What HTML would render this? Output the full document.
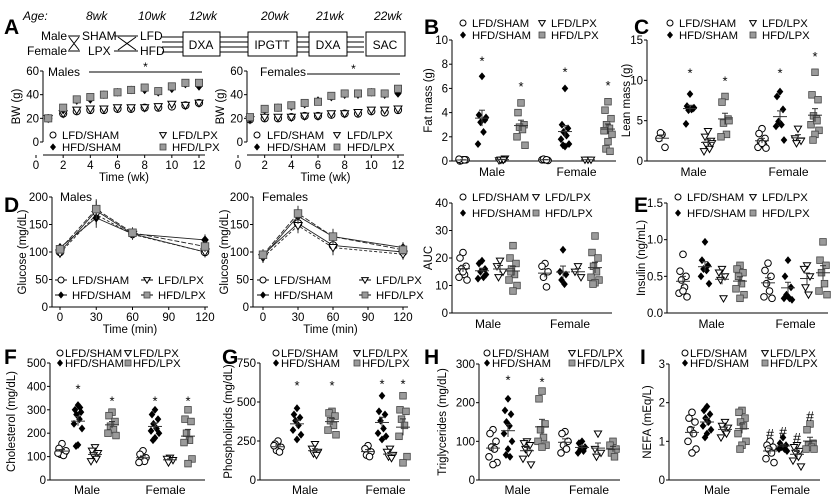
<!DOCTYPE html>
<html><head><meta charset="utf-8"><style>
html,body{margin:0;padding:0;background:#fff;width:831px;height:501px;overflow:hidden}
svg{font-family:"Liberation Sans",Arial,sans-serif}
</style></head><body>
<svg id="fig" width="831" height="501" viewBox="0 0 831 501" xmlns="http://www.w3.org/2000/svg">
<g font-size="12" fill="#000">
<text x="23" y="20" font-style="italic">Age:</text>
<text x="86" y="20" font-style="italic">8wk</text>
<text x="138" y="20" font-style="italic">10wk</text>
<text x="189" y="20" font-style="italic">12wk</text>
<text x="261" y="20" font-style="italic">20wk</text>
<text x="316" y="20" font-style="italic">21wk</text>
<text x="374" y="20" font-style="italic">22wk</text>
<text x="67" y="40" text-anchor="end">Male</text>
<text x="67" y="55" text-anchor="end">Female</text>
<text x="82" y="40">SHAM</text>
<text x="88" y="55">LPX</text>
<text x="140" y="40">LFD</text>
<text x="140" y="55">HFD</text>
<g stroke="#000" stroke-width="1" fill="none">
<path d="M68 36 L80 36 M68 51 L80 51 M69 37 L79 50 M69 50 L79 37"/>
<path d="M114 36 L138 36 M114 51 L138 51 M118 37 L136 50 M118 50 L136 37"/>
<path d="M162 37 L183 37 M162 42 L183 42 M162 47 L183 47 M162 52 L183 52"/>
<rect x="183" y="32" width="37" height="24"/>
<path d="M220 37 L248 37 M220 42 L248 42 M220 47 L248 47 M220 52 L248 52"/>
<rect x="248" y="32" width="49" height="24"/>
<path d="M297 37 L309 37 M297 42 L309 42 M297 47 L309 47 M297 52 L309 52"/>
<rect x="309" y="32" width="38" height="24"/>
<path d="M347 37 L364 37 M347 42 L364 42 M347 47 L364 47 M347 52 L364 52"/>
<rect x="366" y="32" width="39" height="24"/>
</g>
<text x="201" y="49" text-anchor="middle">DXA</text>
<text x="272" y="49" text-anchor="middle">IPGTT</text>
<text x="328" y="49" text-anchor="middle">DXA</text>
<text x="385" y="49" text-anchor="middle">SAC</text>
</g>
</svg>
<script>
// ---------- DATA ----------
const groups = ['LFD/SHAM','LFD/LPX','HFD/SHAM','HFD/LPX'];
const weeks = [0.9,2,3,4,5,6,7,8,9,10,11,12];
const bwMaleLS = [20,24,26,27,27,28,28,29,29,30,31,33];
const bwMaleLL = [20,24,27,28,28,29,29,29,30,32,31,33];
const bwMaleHS = [20,27,35,36,40,42,44,44,42,45,49,47];
const bwMaleHL = [20,29,36,38,40,42,44,46,43,47,50,50];
const bwFemLS = [19,20,20,21,22,22,23,24,24,26,25,27];
const bwFemLL = [19,21,21,21,22,22,24,24,25,27,27,28];
const bwFemHS = [20,27,29,30,32,35,38,40,40,42,40,41];
const bwFemHL = [21,28,29,31,33,34,39,41,41,42,41,45];
const gttTimes = [0,30,60,120];
const gttMaleLS = [100,175,133,100];
const gttMaleLL = [98,168,132,100];
const gttMaleHS = [108,162,133,122];
const gttMaleHL = [105,178,135,110];
const gttFemLS = [95,152,112,100];
const gttFemLL = [90,148,108,96];
const gttFemHS = [92,165,128,108];
const gttFemHL = [95,170,128,104];
const gttErr = [8,18,10,10];
// scatter: [male LS, male HS, male LL, male HL, female LS, female HS, female LL, female HL]
const fatMass = [[0.1,0,0.1,0.05,0.1,0.15],[7,3.8,3.4,3.2,2.4,1.4,3.6],[0.1,0.05,0.2,0.1,0.1],[4.8,4,3,2.8,2.6,2,1.3],
 [0.1,0.1,0.05,0.15,0.1],[6,3,2.7,2.4,2.1,1.8,1.4,1.2,1.3],[0.1,0.1,0.1],[4.9,4.2,3.5,3,2.7,2.5,2.2,1.6,1,0.8]];
const fatStars = [null,8.3,null,6.2,null,7.4,null,6.3];
const leanMass = [[3.3,2.8,1.7,3.5],[8.3,6.8,6.5,6.3,6.4,4.6,6.6],[3.7,3,2.5,2,1.5,1.2,2.2],[8,7.3,5.2,4.7,3.3,3,5],
 [4,3.4,2.8,2.4,2,1.7,1.6,2.2],[8.6,8,6.4,4.9,4.5,4.3,2.6,4.7],[4,2.8,2.5,2.2],[11,8.2,7.6,5.6,5.2,4.5,3.8,3.3,2.6,5]];
const leanStars = [null,11,null,10,null,11,null,13];
const aucVals = [[22,20,17,16,14,13,12,15],[19,18,16,15,13,12.5,14],[19,17,15,13],[24.5,20,18,16,14,12,10,8,15],
 [18,17,15,13,9.5],[23,15,14,12,10.5],[17,15,13],[28,22,20,17,15,13,12,11,10.5]];
const insulinVals = [[0.8,0.57,0.5,0.45,0.35,0.27,0.22,0.3],[0.97,0.72,0.65,0.6,0.58,0.5,0.4],[0.6,0.55,0.5,0.45,0.2],[0.65,0.6,0.55,0.5,0.4,0.33,0.25,0.2],
 [0.68,0.58,0.5,0.4,0.3,0.22,0.2],[0.72,0.5,0.35,0.25,0.2,0.2,0.18],[0.65,0.6,0.5,0.35,0.25],[0.97,0.72,0.65,0.55,0.4,0.3,0.25]];
const cholVals = [[155,135,120,110,105,115,125],[320,300,290,280,260,240,220,150,145,310],[140,125,115,105,90,80],[290,275,250,230,215,200,190],
 [125,110,95,85,80,75],[300,280,260,240,220,210,200,180,170],[95,90,85,75],[300,260,250,200,170,160,90,70]];
const cholStars = [null,390,null,340,null,340,null,340];
const phosVals = [[250,230,210,190,180,220],[460,420,400,380,350,320,290,260],[230,200,180,170,160],[440,430,410,380,350,320,290],
 [220,200,180,160,150],[540,440,420,380,330,300,280,260],[200,180,160,150,140],[540,450,440,390,350,280,150,110]];
const phosStars = [null,610,null,610,null,620,null,620];
const tgVals = [[130,120,100,85,80,60,45,40],[210,180,170,150,140,120,100,80,65,60],[100,95,90,80,70,55,40],[230,210,145,130,110,100,90,85],
 [125,120,100,90,80,70],[100,95,85,80,75,70],[120,80,70,60],[100,90,80,70,60]];
const tgStars = [null,260,null,255,null,null,null,null];
const nefaVals = [[1.75,1.6,1.5,1.3,1.2,1,0.8,0.7],[1.9,1.8,1.7,1.6,1.5,1.4,1.3,1.2,1.1],[1.5,1.4,1.35,1.3,1.2,1.1],[1.8,1.75,1.6,1.5,1.4,1.2,1,0.9,0.8],
 [1,0.9,0.85,0.8,0.7,0.55,0.45],[1.1,0.95,0.9,0.85,0.8,0.8,0.75],[0.9,0.85,0.75,0.7,0.6,0.5,0.35],[1.45,1.3,0.95,0.9,0.85,0.8,0.8]];
const nefaHash = [null,null,null,null,1.2,1.25,1.1,1.65];

// ---------- HELPERS ----------
const NS='http://www.w3.org/2000/svg';
const svg=document.getElementById('fig');
const LFS=11.3;
function mk(tag,attrs,parent){const e=document.createElementNS(NS,tag);for(const k in attrs)e.setAttribute(k,attrs[k]);(parent||svg).appendChild(e);return e;}
function txt(s,x,y,attrs,parent){const t=mk('text',Object.assign({x:x,y:y,'font-size':11},attrs||{}),parent);t.textContent=s;return t;}
function marker(kind,x,y,s,parent){
  let e;
  if(kind===0)e=mk('circle',{cx:x,cy:y,r:s,fill:'#fff',stroke:'#000','stroke-width':1},parent);
  else if(kind===1)e=mk('path',{d:`M${x-s*1.1} ${y-s*0.8} L${x+s*1.1} ${y-s*0.8} L${x} ${y+s*1.1} Z`,fill:'#fff',stroke:'#000','stroke-width':1},parent);
  else if(kind===2)e=mk('path',{d:`M${x} ${y-s*1.2} L${x+s} ${y} L${x} ${y+s*1.2} L${x-s} ${y} Z`,fill:'#000'},parent);
  else e=mk('rect',{x:x-s,y:y-s,width:2*s,height:2*s,fill:'#9a9a9a',stroke:'#444','stroke-width':0.8},parent);
  return e;
}
function letter(L,x,y){const t=txt(L,x,y,{'font-size':21,'font-weight':'bold'});}
function legend(g,x,y1,y2,dx,gap,withLine){
  const items=[[0,x,y1,'LFD/SHAM'],[1,x+dx,y1,'LFD/LPX'],[2,x,y2,'HFD/SHAM'],[3,x+dx,y2,'HFD/LPX']];
  items.forEach(it=>{
    const lg=mk('g',{},g);
    
    
    if(withLine)mk('line',{x1:it[1]-6,x2:it[1]+6,y1:it[2],y2:it[2],stroke:'#000','stroke-width':1},lg);
    marker(it[0],it[1],it[2],3,lg);
    txt(it[3],it[1]+gap,it[2]+4,{'font-size':LFS},lg);
  });
}
function yAxis(g,ax,yTop,yBot,vmin,vmax,ticks,labels,label,lx){
  const sy=v=>yBot-(v-vmin)/(vmax-vmin)*(yBot-yTop);
  const a=mk('line',{x1:ax,x2:ax,y1:yTop,y2:yBot,stroke:'#000','stroke-width':1},g);
  
  ticks.forEach((t,i)=>{mk('line',{x1:ax-3,x2:ax,y1:sy(t),y2:sy(t),stroke:'#000'},g);
    const tl=txt(labels[i],ax-4,sy(t)+4,{'text-anchor':'end','font-size':11.5},g);});
  const cy=(yTop+yBot)/2;
  const yl=txt(label,lx,cy,{'text-anchor':'middle','font-size':11.5,transform:`rotate(-90 ${lx} ${cy})`},g);
  
  return sy;
}
function scatterPanel(cfg){
  const g=mk('g',{});
  const sy=yAxis(g,cfg.ax,cfg.yTop,cfg.yBot,0,cfg.vmax,cfg.ticks,cfg.tickLabels,cfg.ylabel,cfg.lx);
  const xa=mk('line',{x1:cfg.ax,x2:cfg.axEnd,y1:cfg.yBot,y2:cfg.yBot,stroke:'#000'},g);
  
  const kinds=[0,2,1,3];
  const jit=[0,-3,3,-1.5,1.5,-4,4,0,-2,2];
  cfg.data.forEach((arr,gi)=>{
    const cx=cfg.xs[gi],kind=kinds[gi%4];
    const sg=mk('g',{},g);
    arr.forEach((v,i)=>marker(kind,cx+jit[i%jit.length],sy(v),3.3,sg));
    const m=arr.reduce((a,b)=>a+b,0)/arr.length;
    const sd=Math.sqrt(arr.reduce((a,b)=>a+(b-m)*(b-m),0)/Math.max(1,arr.length-1));
    const se=sd/Math.sqrt(arr.length);
    mk('line',{x1:cx-7,x2:cx+7,y1:sy(m),y2:sy(m),stroke:'#333','stroke-width':1},sg);
    mk('line',{x1:cx,x2:cx,y1:sy(m+se),y2:sy(Math.max(0,m-se)),stroke:'#333','stroke-width':1},sg);
    mk('line',{x1:cx-3,x2:cx+3,y1:sy(m+se),y2:sy(m+se),stroke:'#333'},sg);
    if(cfg.stars&&cfg.stars[gi]!=null){const s=txt(cfg.mark||'*',cx,sy(cfg.stars[gi])+5,{'text-anchor':'middle','font-size':cfg.mark?14:13},g);}
  });
  const m1=txt('Male',(cfg.xs[0]+cfg.xs[3])/2,cfg.yBot+cfg.xlo,{'text-anchor':'middle','font-size':12},g);
  
  const f1=txt('Female',(cfg.xs[4]+cfg.xs[7])/2,cfg.yBot+cfg.xlo,{'text-anchor':'middle','font-size':12},g);
  
  const lg=mk('g',{},g);
  legend(lg,cfg.leg[0],cfg.leg[1],cfg.leg[2],cfg.leg[3],cfg.leg[4],false);
}
function linePanel(cfg){
  const g=mk('g',{});
  const sy=yAxis(g,cfg.ax,cfg.yTop,cfg.yBot,0,cfg.vmax,cfg.ticks,cfg.tickLabels,cfg.ylabel,cfg.lx);
  const sx=v=>cfg.x0+(v-cfg.t0)/(cfg.t1-cfg.t0)*(cfg.x1-cfg.x0);
  const xa=mk('line',{x1:cfg.ax,x2:cfg.axEnd,y1:cfg.xaY,y2:cfg.xaY,stroke:'#000'},g);
  
  cfg.xticks.forEach(t=>{mk('line',{x1:sx(t),x2:sx(t),y1:cfg.xaY,y2:cfg.xaY+3,stroke:'#000'},g);
    const tl=txt(String(t),sx(t),cfg.xaY+14,{'text-anchor':'middle','font-size':11.5},g);});
  const xt=txt(cfg.xlabel,(cfg.ax+cfg.axEnd)/2,cfg.xaY+26,{'text-anchor':'middle','font-size':11.5},g);
  
  const tt=txt(cfg.title,cfg.titleX,cfg.titleY,{'font-size':12},g);
  const kinds=[0,1,2,3];
  cfg.series.forEach((ser,si)=>{
    const sg=mk('g',{},g);
    if(cfg.lines){
      mk('polyline',{points:ser.map((v,i)=>sx(cfg.times[i])+','+sy(v)).join(' '),fill:'none',stroke:'#222','stroke-width':0.9,'stroke-dasharray':si===1?'3,2':(si===3?'5,2':'none')},sg);
      ser.forEach((v,i)=>{const e=cfg.err[i];mk('line',{x1:sx(cfg.times[i]),x2:sx(cfg.times[i]),y1:sy(v+e),y2:sy(v-e),stroke:'#333'},sg);});
    }
    ser.forEach((v,i)=>marker(kinds[si],sx(cfg.times[i]),sy(v),cfg.ms,sg));
  });
  if(cfg.star){const sl=mk('line',{x1:cfg.star[0],x2:cfg.star[1],y1:cfg.star[2],y2:cfg.star[2],stroke:'#000'},g);
    const st=txt('*',(cfg.star[0]+cfg.star[1])/2,cfg.star[2]-1,{'text-anchor':'middle','font-size':12},g);}
  const lg=mk('g',{},g);
  legend(lg,cfg.leg[0],cfg.leg[1],cfg.leg[2],cfg.leg[3],cfg.leg[4],cfg.lines);
}

// ---------- PANEL A ----------
letter('A',4,34);
linePanel({name:'bw-males-chart',ax:43,axEnd:205,yTop:71,yBot:142,vmax:60,ticks:[0,20,40,60],tickLabels:['0','20','40','60'],ylabel:'BW (g)',lx:20,
  x0:36,x1:199,t0:0,t1:12,xaY:155,xticks:[0,2,4,6,8,10,12],xlabel:'Time (wk)',title:'Males',titleX:48,titleY:76,
  times:weeks,series:[bwMaleLS,bwMaleLL,bwMaleHS,bwMaleHL],lines:false,ms:3.6,star:[89,202,72],leg:[53,135,147,110,9]});
linePanel({name:'bw-females-chart',ax:247,axEnd:404,yTop:71,yBot:142,vmax:60,ticks:[0,20,40,60],tickLabels:['0','20','40','60'],ylabel:'BW (g)',lx:224,
  x0:238,x1:398,t0:0,t1:12,xaY:155,xticks:[0,2,4,6,8,10,12],xlabel:'Time (wk)',title:'Females',titleX:260,titleY:76,
  times:weeks,series:[bwFemLS,bwFemLL,bwFemHS,bwFemHL],lines:false,ms:3.6,star:[307,400,74],leg:[257,135,147,80,10]});
// ---------- PANEL D ----------
letter('D',4,212);
linePanel({name:'gtt-males-chart',ax:52,axEnd:208,yTop:197,yBot:307,vmax:200,ticks:[0,50,100,150,200],tickLabels:['0','50','100','150','200'],ylabel:'Glucose (mg/dL)',lx:26,
  x0:60,x1:205,t0:0,t1:120,xaY:307,xticks:[0,30,60,90,120],xlabel:'Time (min)',title:'Males',titleX:60,titleY:201,
  times:gttTimes,series:[gttMaleLS,gttMaleLL,gttMaleHS,gttMaleHL],lines:true,err:gttErr,ms:3.8,star:null,leg:[61,280,295,86,11]});
linePanel({name:'gtt-females-chart',ax:253,axEnd:408,yTop:197,yBot:307,vmax:200,ticks:[0,50,100,150,200],tickLabels:['0','50','100','150','200'],ylabel:'Glucose (mg/dL)',lx:228,
  x0:263,x1:403,t0:0,t1:120,xaY:307,xticks:[0,30,60,90,120],xlabel:'Time (min)',title:'Females',titleX:262,titleY:201,
  times:gttTimes,series:[gttFemLS,gttFemLL,gttFemHS,gttFemHL],lines:true,err:[10,14,14,10],ms:3.8,star:null,leg:[263,280,295,102,11]});
// ---------- SCATTER PANELS ----------
letter('B',424,34);
scatterPanel({name:'fat-mass-chart',ax:452,axEnd:616,yTop:40,yBot:161,vmax:10,ticks:[0,2,4,6,8,10],tickLabels:['0','2','4','6','8','10'],ylabel:'Fat mass (g)',lx:432,
  xs:[463,482,502,521,545,565,588,608],data:fatMass,stars:fatStars,xlo:15,leg:[463,23,35,79,9]});
letter('C',634,34);
scatterPanel({name:'lean-mass-chart',ax:647,axEnd:826,yTop:40,yBot:161,vmax:15,ticks:[0,5,10,15],tickLabels:['0','5','10','15'],ylabel:'Lean mass (g)',lx:630,
  xs:[662,690,708,725,762,780,798,815],data:leanMass,stars:leanStars,xlo:15,leg:[670,23,35,83,9]});
scatterPanel({name:'gtt-auc-chart',ax:452,axEnd:612,yTop:203,yBot:313,vmax:40,ticks:[0,10,20,30,40],tickLabels:['0','10','20','30','40'],ylabel:'AUC',lx:432,
  xs:[463,482,500,513,545,563,578,595],data:aucVals,stars:null,xlo:15,leg:[463,197,213,73,9]});
letter('E',634,212);
scatterPanel({name:'insulin-chart',ax:667,axEnd:828,yTop:203,yBot:313,vmax:1.5,ticks:[0,0.5,1,1.5],tickLabels:['0.0','0.5','1.0','1.5'],ylabel:'Insulin (ng/mL)',lx:645,
  xs:[683,705,722,740,768,788,807,823],data:insulinVals,stars:null,xlo:15,leg:[678,197,213,75,9]});
letter('F',4,364);
scatterPanel({name:'cholesterol-chart',ax:50,axEnd:205,yTop:363,yBot:480,vmax:500,ticks:[0,100,200,300,400,500],tickLabels:['0','100','200','300','400','500'],ylabel:'Cholesterol (mg/dL)',lx:15,
  xs:[62,78,95,112,143,155,170,188],data:cholVals,stars:cholStars,xlo:14,leg:[60,353,363,68,5]});
letter('G',222,364);
scatterPanel({name:'phospholipids-chart',ax:260,axEnd:410,yTop:363,yBot:480,vmax:750,ticks:[0,250,500,750],tickLabels:['0','250','500','750'],ylabel:'Phospholipids (mg/dL)',lx:232,
  xs:[278,297,315,332,368,382,390,403],data:phosVals,stars:phosStars,xlo:14,leg:[276,353,363,81,5]});
letter('H',424,364);
scatterPanel({name:'triglycerides-chart',ax:479,axEnd:620,yTop:364,yBot:480,vmax:300,ticks:[0,100,200,300],tickLabels:['0','100','200','300'],ylabel:'Triglycerides (mg/dL)',lx:446,
  xs:[493,508,527,542,565,582,598,613],data:tgVals,stars:tgStars,xlo:14,leg:[487,353,363,85,5]});
letter('I',640,364);
scatterPanel({name:'nefa-chart',ax:669,axEnd:820,yTop:364,yBot:480,vmax:3,ticks:[0,1,2,3],tickLabels:['0','1','2','3'],ylabel:'NEFA (mEq/L)',lx:651,
  xs:[692,707,725,742,770,783,797,810],data:nefaVals,stars:nefaHash,mark:'#',xlo:14,leg:[685,353,363,80,5]});
</script>
</body></html>
